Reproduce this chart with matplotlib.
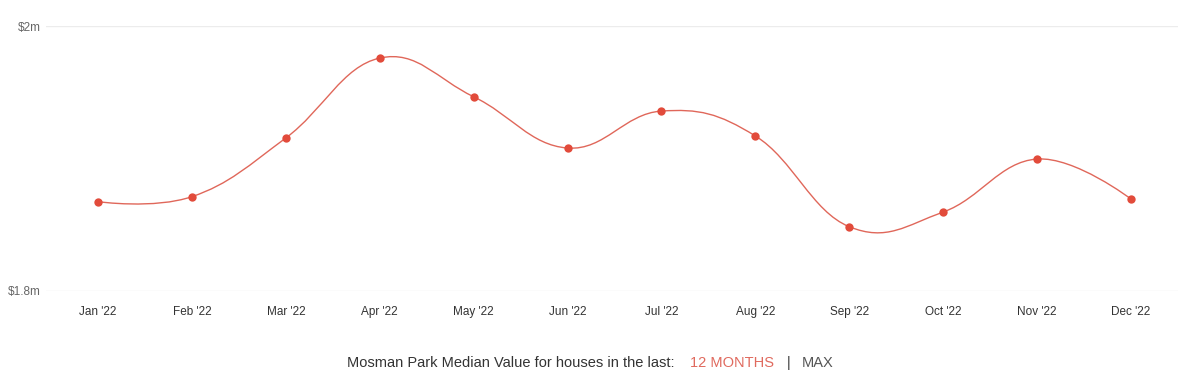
import numpy as np
import matplotlib
matplotlib.use("Agg")
import matplotlib.pyplot as plt
from matplotlib.path import Path
from matplotlib.patches import PathPatch

plt.rcParams['font.family'] = ['Liberation Sans', 'DejaVu Sans']

months = ["Jan '22", "Feb '22", "Mar '22", "Apr '22", "May '22", "Jun '22",
          "Jul '22", "Aug '22", "Sep '22", "Oct '22", "Nov '22", "Dec '22"]
values = [1.8674, 1.8712, 1.9155, 1.9758, 1.9466, 1.9079,
          1.9358, 1.9170, 1.8485, 1.8596, 1.8996, 1.8694]
ytick_vals = [1.8, 2.0]
ytick_labels = ["\\$1.8m", "\\$2m"]

line_col = "#e0675a"
dot_col = "#e24b3b"


def spline_path(xs, ys, smoothing=1.5):
    # Highcharts-style spline control points (no clamping)
    denom = smoothing + 1
    n = len(xs)
    verts = [(xs[0], ys[0])]
    codes = [Path.MOVETO]
    ctrl = []
    for i in range(n):
        if i == 0 or i == n - 1:
            ctrl.append(((xs[i], ys[i]), (xs[i], ys[i])))
            continue
        lx = (smoothing * xs[i] + xs[i - 1]) / denom
        ly = (smoothing * ys[i] + ys[i - 1]) / denom
        rx = (smoothing * xs[i] + xs[i + 1]) / denom
        ry = (smoothing * ys[i] + ys[i + 1]) / denom
        if rx != lx:
            corr = (ry - ly) * (rx - xs[i]) / (rx - lx) + ys[i] - ry
            ly += corr
            ry += corr
        ctrl.append(((lx, ly), (rx, ry)))
    for i in range(1, n):
        verts += [ctrl[i - 1][1], ctrl[i][0], (xs[i], ys[i])]
        codes += [Path.CURVE4] * 3
    return Path(verts, codes)


fig = plt.figure(figsize=(12, 3.81), dpi=100)
ax = fig.add_axes([46 / 1200, 1 - 291 / 381, (1178 - 46) / 1200, 265 / 381])

x = np.arange(len(months))
ax.add_patch(PathPatch(spline_path(list(x), values), facecolor='none',
                       edgecolor=line_col, lw=1.0, zorder=3))
ax.scatter(x, values, s=36, color=dot_col, zorder=4, linewidths=0)

ax.set_xlim(-0.554, 11.5)
ax.set_ylim(1.8, 2.0)
ax.set_yticks(ytick_vals)
ax.set_yticklabels(ytick_labels)
ax.set_xticks(x)
ax.set_xticklabels(months)
for s in ax.spines.values():
    s.set_visible(False)
ax.grid(axis='y', color='#ececec', lw=1)
ax.tick_params(axis='both', length=0)
ax.tick_params(axis='y', labelsize=8.5, labelcolor='#666666', pad=4)
ax.tick_params(axis='x', labelsize=8.5, labelcolor='#333333', pad=11)

# footer text
renderer = fig.canvas.get_renderer()
parts = [("Mosman Park Median Value for houses in the last:", '#333333', 0),
         ("12 MONTHS", '#e06a5e', 16),
         ("|", '#333333', 12),
         ("MAX", '#555555', 12)]
xpos = 347
for txt, col, gap in parts:
    xpos += gap
    t = fig.text(xpos / 1200, 1 - 363 / 381, txt, color=col, fontsize=10.5,
                 ha='left', va='center')
    bb = t.get_window_extent(renderer)
    xpos = bb.x1

fig.savefig("out.png", dpi=100, facecolor='white')
